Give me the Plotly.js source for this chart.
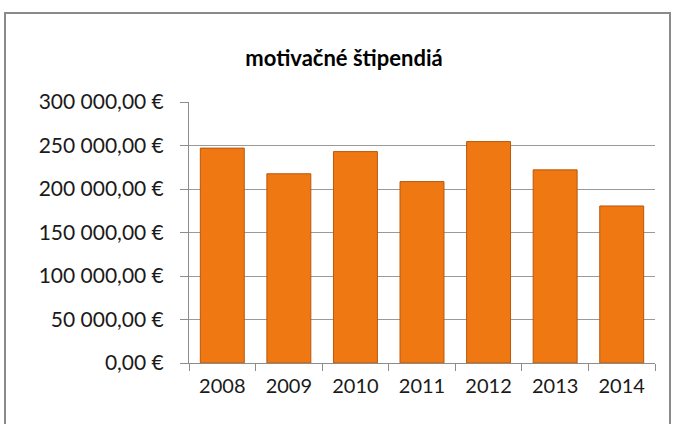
<!DOCTYPE html>
<html>
<head>
<meta charset="utf-8">
<script src="https://cdn.plot.ly/plotly-3.0.1.min.js"></script>
<style>html,body{margin:0;padding:0;background:#fff;}#chart{width:675px;height:424px;}</style>
</head>
<body>
<div id="chart"></div>
<script>
const years = ['2008','2009','2010','2011','2012','2013','2014'];
const amounts = [247000, 217500, 243000, 208500, 254500, 222000, 180500];
const yTickValues = [0, 50000, 100000, 150000, 200000, 250000, 300000];
const yTickLabels = ['0,00 €', '50 000,00 €', '100 000,00 €', '150 000,00 €', '200 000,00 €', '250 000,00 €', '300 000,00 €'];
const titleText = 'motivačné štipendiá';

const L = 189, R = 655, T = 102, B = 363, W = 675, H = 424;
const pw = R - L, ph = B - T;
const px = x => (x - L) / pw;
const py = y => (B - y) / ph;

const trace = {
  type: 'bar',
  x: years,
  y: amounts,
  marker: {color: '#EF7813', line: {color: '#B8580A', width: 1}},
  hoverinfo: 'x+y'
};

const layout = {
  width: W, height: H,
  margin: {l: L, r: W - R, t: T, b: H - B, pad: 0},
  paper_bgcolor: '#ffffff',
  plot_bgcolor: '#ffffff',
  bargap: 0.34,
  showlegend: false,
  font: {family: 'Lato, "Open Sans", sans-serif', color: '#1a1a1a'},
  title: {text: '<b>' + titleText + '</b>', x: 344 / W, xref: 'container', xanchor: 'center', y: 1 - 58/H, yanchor: 'middle', yref: 'container', font: {size: 22, family: 'Lato, sans-serif', color: '#000'}},
  xaxis: {
    type: 'category',
    showgrid: false,
    showline: true, linecolor: '#8c8c8c', linewidth: 1,
    ticks: 'outside', tickson: 'boundaries', ticklen: 7, tickcolor: '#8c8c8c',
    ticklabelstandoff: 5,
    tickfont: {size: 20, color: '#1a1a1a'},
    fixedrange: true
  },
  yaxis: {
    range: [0, 300000],
    tickvals: yTickValues,
    ticktext: yTickLabels,
    showgrid: true, gridcolor: '#9a9a9a', gridwidth: 1,
    showline: true, linecolor: '#8c8c8c', linewidth: 1,
    ticks: 'outside', ticklen: 8, tickcolor: '#8c8c8c',
    ticklabelstandoff: 12,
    tickfont: {size: 21, color: '#1a1a1a'},
    zeroline: false,
    fixedrange: true
  },
  shapes: [{
    type: 'rect', xref: 'paper', yref: 'paper',
    x0: px(5), x1: px(670), y0: py(440), y1: py(13),
    line: {color: '#8a8a8a', width: 2}, fillcolor: 'rgba(0,0,0,0)', layer: 'below'
  }]
};

Plotly.newPlot('chart', [trace], layout, {displayModeBar: false, staticPlot: true});
</script>
</body>
</html>
